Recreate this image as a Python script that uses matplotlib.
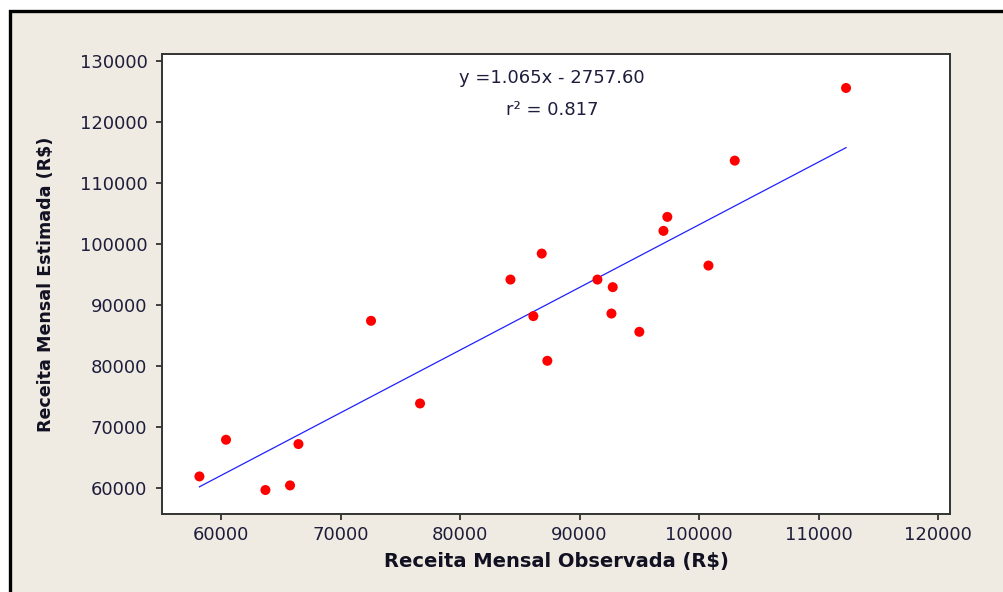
import matplotlib.pyplot as plt
from matplotlib.patches import Rectangle
import numpy as np

# receita mensal observada x estimada (R$)
observada = [58192, 60418, 63715, 65774, 66477, 72552, 76653, 84218, 86837, 86134,
             87305, 91498, 92778, 92669, 95004, 97021, 97347, 100787, 102988, 112301]
estimada = [61900, 67913, 59672, 60426, 67208, 87408, 73860, 94174, 98434, 88178,
            80855, 94174, 92929, 88604, 85606, 102153, 104447, 96468, 113670, 125580]

# reta desenhada no grafico (extremos)
reta_y = [60200, 115800]
equacao = 'y =1.065x - 2757.60'
r2_txt = 'r\u00b2 = 0.817'

x_ticks = [60000, 70000, 80000, 90000, 100000, 110000, 120000]
y_ticks = [60000, 70000, 80000, 90000, 100000, 110000, 120000, 130000]

fig = plt.figure(figsize=(10.04, 5.92), dpi=100)
fig.patch.set_facecolor('white')
fig.patches.append(Rectangle((10.5 / 1004, -0.1), 1.2, 1.1 - 10.5 / 592,
                             transform=fig.transFigure, facecolor='#EFEBE2',
                             edgecolor='black', linewidth=2.4, zorder=-5))

ax = fig.add_axes([162 / 1004, 1 - 514 / 592, 788 / 1004, 460 / 592])
ax.set_facecolor('white')

x = np.array(observada)
ax.plot([x.min(), x.max()], reta_y, color='#2020FF', linewidth=0.9, zorder=2)
ax.scatter(observada, estimada, s=52, color='#FF0000', edgecolors='none', zorder=3)

ax.set_xlim(55060, 121000)
ax.set_ylim(55740, 131150)
ax.set_xticks(x_ticks)
ax.set_yticks(y_ticks)

txt_color = '#1e1e3c'
ax.tick_params(direction='out', length=4.5, width=1.2, colors='#222222',
               labelcolor=txt_color, labelsize=13)
ax.tick_params(axis='x', pad=4)
ax.tick_params(axis='y', pad=6)
for s in ax.spines.values():
    s.set_linewidth(1.4)
    s.set_color('#333333')

ax.set_xlabel('Receita Mensal Observada (R$)', fontsize=14, fontweight='bold',
              color='#111122', labelpad=6)
ax.set_ylabel('Receita Mensal Estimada (R$)', fontsize=12.6, fontweight='bold',
              color='#111122', labelpad=18)

ax.text(0.495, 0.948, equacao, transform=ax.transAxes, ha='center', va='center',
        fontsize=13, color=txt_color)
ax.text(0.495, 0.878, r2_txt, transform=ax.transAxes, ha='center', va='center',
        fontsize=13, color=txt_color)

fig.savefig('out.png', dpi=100, facecolor=fig.get_facecolor())
